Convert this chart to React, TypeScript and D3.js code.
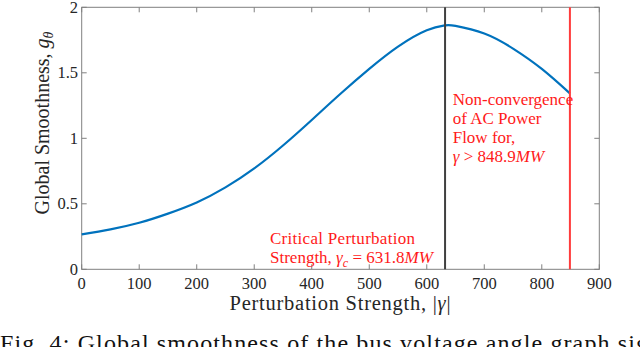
import React, { useRef, useEffect } from "react";
import * as d3 from "d3";

const strength = [0, 50, 100, 150, 200, 250, 300, 350, 400, 450, 500, 550, 600, 631.8, 650, 700, 750, 800, 848.9];
const smoothness = [0.267, 0.305, 0.355, 0.425, 0.51, 0.625, 0.77, 0.945, 1.14, 1.34, 1.53, 1.7, 1.825, 1.862, 1.858, 1.8, 1.685, 1.53, 1.343];
const xTicks = [0, 100, 200, 300, 400, 500, 600, 700, 800, 900];
const yTicks = [0, 0.5, 1, 1.5, 2];
const criticalGamma = 631.8;
const divergeGamma = 848.9;

const W = 640;
const H = 347;
const FONT = "Liberation Serif";

function App() {
  const canvas = useRef<SVGSVGElement>(null);

  function drawChart() {
    const svg = d3.select(canvas.current).attr("width", W).attr("height", H)
      .attr("font-family", FONT);
    svg.selectAll("*").remove();

    const left = 81.7, right = 599.3, top = 7.3, bottom = 269.3;
    const x = d3.scaleLinear().domain([0, 900]).range([left, right]);
    const y = d3.scaleLinear().domain([0, 2]).range([bottom, top]);

    const axisColor = "#808080";
    const textColor = "#262626";

    // ticks, pointing inward on all four sides
    const g = svg.append("g");
    xTicks.forEach((t) => {
      g.append("line").attr("x1", x(t)).attr("x2", x(t)).attr("y1", bottom).attr("y2", bottom - 5)
        .attr("stroke", axisColor).attr("stroke-width", 1);
      g.append("line").attr("x1", x(t)).attr("x2", x(t)).attr("y1", top).attr("y2", top + 5)
        .attr("stroke", axisColor).attr("stroke-width", 1);
      g.append("text").attr("x", x(t)).attr("y", 289).attr("text-anchor", "middle")
        .attr("font-size", 16.5).attr("fill", textColor).text(t);
    });
    yTicks.forEach((t) => {
      g.append("line").attr("x1", left).attr("x2", left + 5).attr("y1", y(t)).attr("y2", y(t))
        .attr("stroke", axisColor).attr("stroke-width", 1);
      g.append("line").attr("x1", right).attr("x2", right - 5).attr("y1", y(t)).attr("y2", y(t))
        .attr("stroke", axisColor).attr("stroke-width", 1);
      g.append("text").attr("x", 78).attr("y", y(t) + 5.5).attr("text-anchor", "end")
        .attr("font-size", 16.5).attr("fill", textColor).text(String(t));
    });

    g.append("rect").attr("x", left).attr("y", top).attr("width", right - left).attr("height", bottom - top)
      .attr("fill", "none").attr("stroke", axisColor).attr("stroke-width", 1);

    // curve
    const pts: [number, number][] = strength.map((s, i) => [s, smoothness[i]]);
    const line = d3.line<[number, number]>().x((d) => x(d[0])).y((d) => y(d[1])).curve(d3.curveNatural);
    svg.append("path").attr("d", line(pts)).attr("fill", "none").attr("stroke", "#0072BD").attr("stroke-width", 2.2);

    // vertical markers
    svg.append("line").attr("x1", x(criticalGamma)).attr("x2", x(criticalGamma)).attr("y1", top).attr("y2", bottom)
      .attr("stroke", "#404040").attr("stroke-width", 2);
    svg.append("line").attr("x1", x(divergeGamma)).attr("x2", x(divergeGamma)).attr("y1", top).attr("y2", bottom)
      .attr("stroke", "#ff3c3c").attr("stroke-width", 2);

    // annotations
    const red = "#ff1a1a";
    const ann = svg.append("g").attr("font-size", 17).attr("fill", red);
    ann.append("text").attr("x", 270).attr("y", 244).attr("textLength", 145).text("Critical Perturbation");
    const t2 = ann.append("text").attr("x", 270).attr("y", 263);
    t2.append("tspan").text("Strength, ");
    t2.append("tspan").attr("font-style", "italic").text("γ");
    t2.append("tspan").attr("dy", 4).attr("font-size", 12).attr("font-style", "italic").text("c");
    t2.append("tspan").attr("dy", -4).text(" = 631.8");
    t2.append("tspan").attr("font-style", "italic").text("MW");

    const nx = 452.7;
    ann.append("text").attr("x", nx).attr("y", 105).text("Non-convergence");
    ann.append("text").attr("x", nx).attr("y", 124).text("of AC Power");
    ann.append("text").attr("x", nx).attr("y", 143).text("Flow for,");
    const t4 = ann.append("text").attr("x", nx).attr("y", 162);
    t4.append("tspan").attr("font-style", "italic").text("γ");
    t4.append("tspan").text(" > 848.9");
    t4.append("tspan").attr("font-style", "italic").text("MW");

    // axis labels
    const xl = svg.append("text").attr("x", 229.5).attr("y", 310).attr("textLength", 221)
      .attr("font-size", 20.5).attr("fill", textColor);
    xl.append("tspan").text("Perturbation Strength, |");
    xl.append("tspan").attr("font-style", "italic").text("γ");
    xl.append("tspan").text("|");

    const yl = svg.append("text").attr("transform", `translate(49, 123) rotate(-90)`).attr("text-anchor", "middle")
      .attr("font-size", 20).attr("fill", textColor);
    yl.append("tspan").text("Global Smoothness, ");
    yl.append("tspan").attr("font-style", "italic").text("g");
    yl.append("tspan").attr("dy", 4).attr("font-size", 14).attr("font-style", "italic").text("θ");

    // figure caption, cut off by the bottom edge as in the source
    svg.append("text").attr("x", 0).attr("y", 351).attr("textLength", 648).attr("lengthAdjust", "spacing")
      .attr("font-size", 24).attr("fill", "#111")
      .text("Fig. 4: Global smoothness of the bus voltage angle graph sig");
  }

  useEffect(() => {
    document.body.style.margin = "0";
    drawChart();
  }, []);

  return (
    <>
      <svg ref={canvas} style={{ display: "block" }}></svg>
    </>
  );
}

export default App;
